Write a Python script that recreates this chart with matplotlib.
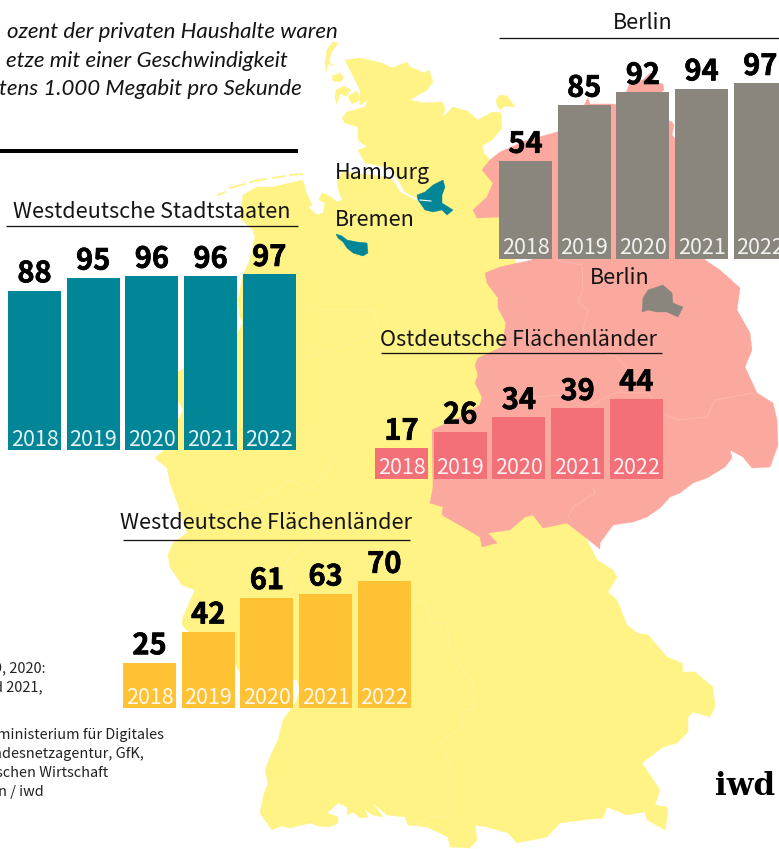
"""
Breitband-Karte: Gigabit-Anteile der Haushalte nach Regionen, 2018-2022.

Sortie : out.png (779x849)
"""

import matplotlib

matplotlib.use("Agg")
import matplotlib.pyplot as plt
import matplotlib.patheffects as pe
from matplotlib.patches import Polygon

W, H = 779, 849
SANS = ["Noto Sans CJK SC", "DejaVu Sans"]
plt.rcParams["font.family"] = SANS

YEARS = ["2018", "2019", "2020", "2021", "2022"]
BERLIN = [54, 85, 92, 94, 97]
STADTSTAATEN = [88, 95, 96, 96, 97]
OST = [17, 26, 34, 39, 44]
WEST = [25, 42, 61, 63, 70]

YELLOW = "#FFF385"
SALMON = "#FBA99F"
TEAL = "#008697"
GREY = "#8A867E"
PINK = "#F47079"
ORANGE = "#FFC235"
INK = "#141414"

# map outlines, traced in image pixels
GERMANY = [
    (345, 60), (360, 58), (382, 63), (392, 68), (407, 62), (410, 67), (425, 73), (429, 70), (433, 82),
    (427, 90), (410, 100), (423, 103), (442, 102), (445, 108), (443, 117), (453, 107), (467, 111),
    (478, 120), (492, 112), (501, 113), (502, 128), (492, 140), (482, 146), (484, 153), (490, 160),
    (585, 537), (592, 550), (597, 560), (613, 570), (617, 577), (608, 592), (617, 600), (627, 625),
    (637, 633), (648, 635), (667, 657), (682, 663), (683, 672), (695, 672), (713, 687), (715, 707),
    (710, 717), (693, 712), (688, 717), (688, 732), (677, 743), (663, 747), (642, 763), (660, 790),
    (655, 805), (667, 807), (668, 813), (665, 830), (647, 820), (645, 812), (627, 815), (607, 807),
    (603, 818), (583, 820), (560, 823), (547, 837), (517, 843), (508, 833), (487, 827), (475, 825),
    (477, 840), (470, 848), (450, 847), (448, 837), (427, 827), (408, 825), (405, 817), (387, 815),
    (372, 802), (383, 817), (373, 815), (365, 810), (368, 817), (360, 818), (353, 812), (348, 815),
    (347, 807), (338, 803), (327, 813), (338, 817), (338, 823), (330, 827), (318, 826), (310, 823),
    (290, 828), (282, 826), (272, 830), (260, 813), (263, 797), (268, 783), (265, 770), (273, 750),
    (278, 740), (283, 720), (292, 708), (296, 702), (300, 690), (297, 680), (285, 678), (240, 672),
    (233, 660), (190, 633), (182, 625), (183, 617), (195, 590), (182, 585), (170, 567), (168, 555),
    (173, 543), (187, 533), (178, 505), (170, 483), (167, 468), (155, 458), (170, 445), (178, 420),
    (183, 410), (178, 400), (178, 372), (184, 368), (237, 335), (243, 322), (240, 318), (238, 300),
    (243, 275), (250, 260), (255, 237), (253, 230), (240, 218), (243, 195), (257, 187), (273, 187),
    (290, 183), (303, 180), (306, 192), (312, 205), (308, 207), (317, 215), (323, 213), (325, 203),
    (319, 200), (322, 193), (328, 195), (337, 202), (342, 200), (338, 188), (337, 180), (343, 172),
    (380, 176), (393, 180), (400, 192), (415, 200), (420, 200), (405, 192), (397, 178), (392, 168),
    (365, 163), (358, 150), (367, 147), (358, 140), (358, 127), (345, 123), (342, 118), (347, 112),
    (365, 107), (368, 100), (360, 105), (360, 90), (350, 70),
]
EAST = [
    (490, 160), (500, 152), (525, 141), (557, 132), (575, 122), (588, 98), (590, 104), (613, 104),
    (640, 110), (672, 122), (674, 125), (672, 135), (678, 142), (690, 180), (700, 225), (703, 250),
    (705, 260), (720, 270), (740, 288), (737, 310), (750, 333), (752, 350), (745, 367), (757, 393),
    (773, 403), (777, 420), (778, 445), (770, 467), (752, 468), (743, 457), (730, 450), (732, 458),
    (725, 467), (707, 478), (693, 483), (680, 493), (670, 497), (660, 508), (647, 517), (633, 522),
    (613, 525), (600, 543), (600, 549), (585, 537), (567, 523), (543, 528), (533, 515), (525, 517),
    (510, 530), (488, 533), (497, 543), (482, 547), (480, 537), (463, 527), (442, 515), (443, 507),
    (430, 503), (433, 487), (432, 430), (460, 417), (480, 405), (482, 397), (475, 383), (478, 375),
    (475, 365), (478, 358), (502, 347), (506, 323), (498, 308), (498, 298), (487, 283), (485, 273),
    (500, 267), (532, 260), (525, 240), (499, 217), (477, 218), (473, 210), (487, 197), (493, 183),
    (482, 170),
]
RUEGEN = [(626, 93), (630, 82), (643, 80), (650, 73), (655, 82), (663, 84), (664, 90), (660, 93)]
FEHMARN = [(496, 100), (500, 95), (507, 96), (515, 107), (505, 106), (500, 110), (497, 105)]
SYLT = [(333, 42), (338, 43), (331, 53), (329, 62), (334, 66), (328, 64), (326, 72), (325, 62), (327, 50)]
FOEHR = [(332, 76), (340, 73), (344, 78), (340, 82), (333, 81)]
HALLIGEN = [(336, 90), (344, 86), (351, 90), (346, 96), (340, 94), (337, 104), (335, 98)]
NORDSTRAND = [(348, 96), (357, 91), (360, 100), (352, 104)]
HAMBURG = [
    (417, 195), (425, 192), (433, 185), (443, 180), (445, 187), (442, 195), (442, 203), (453, 210),
    (447, 215), (442, 210), (433, 212), (425, 210), (418, 200),
]
BREMEN = [
    (336, 234), (342, 236), (347, 240), (357, 242), (367, 243), (368, 253), (363, 256), (353, 253),
    (347, 248), (343, 242), (338, 238),
]
BERLIN_AREA = [
    (642, 312), (643, 298), (648, 290), (663, 285), (672, 293), (673, 303), (683, 307), (678, 317),
    (667, 312), (657, 312), (648, 310),
]
FRISIAN = [
    [(218, 195), (225, 192)], [(230, 188), (245, 184)], [(250, 182), (266, 179)],
    [(273, 178), (285, 176)], [(290, 175), (302, 174)],
]
BORDERS_EAST = [
    [(753, 393), (715, 400), (707, 417), (677, 420), (662, 413), (648, 393), (617, 392), (587, 407), (560, 395),
     (537, 397), (500, 405)],
    [(555, 260), (582, 265), (583, 290), (578, 302), (588, 310), (583, 330), (592, 350), (617, 357), (648, 393)],
    [(593, 487), (595, 493), (573, 507), (568, 517), (573, 523)],
]
BORDERS_WEST = [
    [(413, 600), (425, 603), (433, 623), (447, 623), (450, 653), (472, 682), (475, 710), (462, 710), (462, 727),
     (440, 742), (450, 767), (450, 803), (450, 817), (432, 817), (415, 825)],
    [(335, 460), (310, 490), (290, 480), (257, 502), (227, 512)],
    [(307, 543), (283, 565), (293, 590)],
    [(320, 310), (375, 310), (378, 330), (345, 345), (300, 360)],
]

HEADER = [
    ("ozent der privaten Haushalte waren", 338, 38),
    ("etze mit einer Geschwindigkeit", 288, 67),
    ("tens 1.000 Megabit pro Sekunde", 302, 95),
]
FOOTNOTE = [
    ("9, 2020:", 46, 672), ("d 2021,", 43, 691),
    ("ministerium für Digitales", 164, 739), ("ndesnetzagentur, GfK,", 144, 758),
    ("schen Wirtschaft", 108, 777), ("n / iwd", 44, 796),
]


def pt(px):
    return px * 72 / 100


def panel(fig, values, color, title, x0, base, rule_x, rule_y, title_x, title_y):
    """One block of five bars, scaled 1.81 px per percentage point."""
    pitch, width = 58.7, 53
    left = x0 - (pitch - width) / 2
    ax = fig.add_axes([left / W, 1 - base / H, 5 * pitch / W, 181 / H], zorder=3)
    ax.patch.set_alpha(0)
    ax.axis("off")
    ax.set_xlim(-0.5, 4.5)
    ax.set_ylim(0, 100)
    xs = range(len(values))
    ax.bar(xs, values, width=width / pitch, color=color)
    for x, v, year in zip(xs, values, YEARS):
        t = ax.annotate(str(v), (x, v), xytext=(0, pt(8.5)), textcoords="offset points", ha="center",
                        va="baseline", fontsize=pt(29), fontweight="bold", color="black", annotation_clip=False)
        t.set_path_effects([pe.withStroke(linewidth=pt(0.7), foreground="black")])
        ax.annotate(year, (x, 0), xytext=(0, pt(4.5)), textcoords="offset points", ha="center", va="baseline",
                    fontsize=pt(21.5), color="white", alpha=0.9, annotation_clip=False)
    bg = fig.axes[0]
    bg.plot(rule_x, [rule_y, rule_y], color=INK, lw=pt(1.3), solid_capstyle="butt", zorder=6)
    bg.text(title_x, title_y, title, ha="center", va="baseline", fontsize=pt(21.6), color=INK, zorder=6)


def main():
    fig = plt.figure(figsize=(W / 100, H / 100), dpi=100, facecolor="white")
    bg = fig.add_axes([0, 0, 1, 1], zorder=1)
    bg.set_xlim(0, W)
    bg.set_ylim(H, 0)
    bg.axis("off")

    for shape in (GERMANY, SYLT, FOEHR, HALLIGEN, NORDSTRAND, FEHMARN):
        bg.add_patch(Polygon(shape, closed=True, fc=YELLOW, ec=YELLOW, lw=0.3, zorder=2))
    for seg in FRISIAN:
        bg.plot(*zip(*seg), color=YELLOW, lw=1.3, zorder=2)
    for shape in (EAST, RUEGEN):
        bg.add_patch(Polygon(shape, closed=True, fc=SALMON, ec=SALMON, lw=0.3, zorder=3))
    for line in BORDERS_EAST:
        bg.plot(*zip(*line), color="#FCBDB5", lw=0.45, zorder=3.5)
    for line in BORDERS_WEST:
        bg.plot(*zip(*line), color="#FFF7A8", lw=0.45, zorder=2.5)
    bg.add_patch(Polygon(HAMBURG, closed=True, fc=TEAL, ec=TEAL, lw=0.3, zorder=4))
    bg.add_patch(Polygon(BREMEN, closed=True, fc=TEAL, ec=TEAL, lw=0.3, zorder=4))
    bg.add_patch(Polygon(BERLIN_AREA, closed=True, fc=GREY, ec=GREY, lw=0.3, zorder=4))
    bg.plot([420, 431], [200, 201], color="white", lw=0.8, zorder=5)

    bg.text(335, 179, "Hamburg", ha="left", va="baseline", fontsize=pt(21.6), color=INK, zorder=6)
    bg.text(335, 226, "Bremen", ha="left", va="baseline", fontsize=pt(21.6), color=INK, zorder=6)
    bg.text(590, 284, "Berlin", ha="left", va="baseline", fontsize=pt(21.6), color=INK, zorder=6)

    for text, x, y in HEADER:
        bg.text(x, y, text, ha="right", va="baseline", fontsize=pt(22.3), style="italic",
                family="Lato", color=INK, zorder=6)
    for text, x, y in FOOTNOTE:
        bg.text(x, y, text, ha="right", va="baseline", fontsize=pt(14.5), color="#222222", zorder=6)
    bg.plot([0, 298], [151, 151], color="black", lw=pt(4), solid_capstyle="butt", zorder=6)
    bg.text(775, 795, "iwd", ha="right", va="baseline", fontsize=pt(31), fontweight="bold",
            family="DejaVu Serif", color="black", zorder=6)

    panel(fig, BERLIN, GREY, "Berlin", 499, 259, [499, 779], 38, 643, 29)
    panel(fig, STADTSTAATEN, TEAL, "Westdeutsche Stadtstaaten", 8, 450, [6, 298], 226, 152, 218)
    panel(fig, OST, PINK, "Ostdeutsche Flächenländer", 375, 479, [381, 662], 353, 518, 346)
    panel(fig, WEST, ORANGE, "Westdeutsche Flächenländer", 123, 708, [123, 410], 540, 266, 529)

    fig.savefig("out.png", dpi=100)


if __name__ == "__main__":
    main()
